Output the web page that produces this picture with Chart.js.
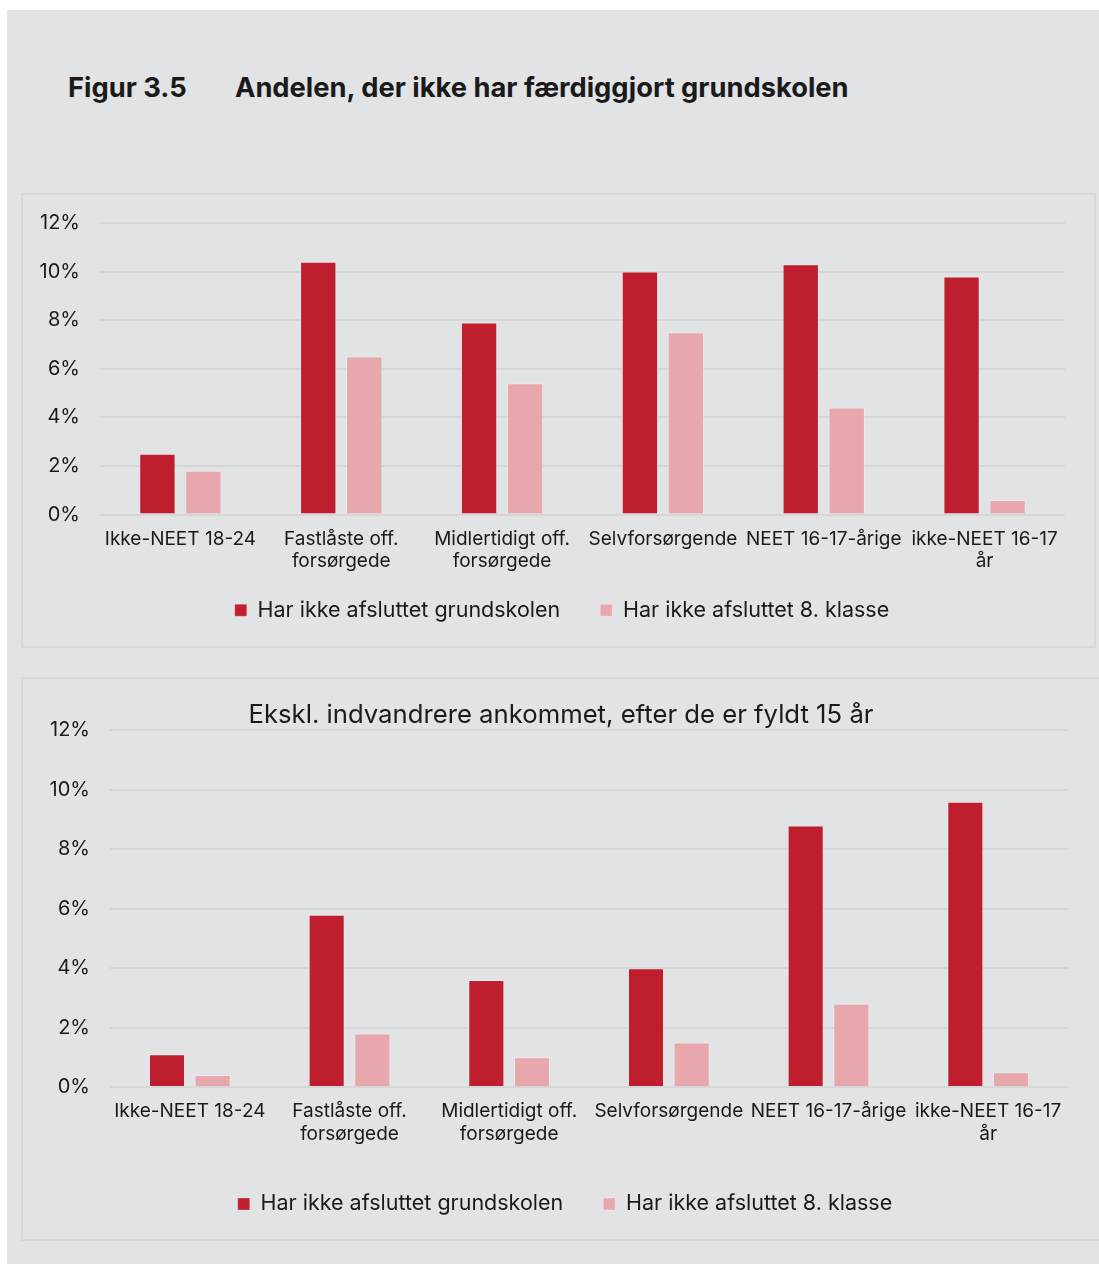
<!DOCTYPE html>
<html>
<head>
<meta charset="utf-8">
<script src="https://cdn.jsdelivr.net/npm/chart.js@4.4.1/dist/chart.umd.min.js"></script>
<style>
html,body{margin:0;padding:0;background:#ffffff;width:1099px;height:1264px;overflow:hidden;}
#page{position:absolute;left:7px;top:10px;width:1092px;height:1254px;background:#e2e3e5;}
.ttl{position:absolute;top:73px;font:700 27.3px Inter, "Liberation Sans", sans-serif;line-height:30px;color:#1a1a1a;white-space:pre;}
.panel{position:absolute;border:2px solid #d6d7d9;box-sizing:border-box;}
#p1{left:21px;top:193px;width:1075px;height:455px;}
#p2{left:21px;top:677px;width:1090px;height:564px;}
canvas{display:block;}
</style>
</head>
<body>
<div id="page"></div>
<div class="ttl" style="left:68px">Figur 3.5</div>
<div class="ttl" style="left:235px">Andelen, der ikke har færdiggjort grundskolen</div>
<div class="panel" id="p1"><canvas id="c1" width="1071" height="451"></canvas></div>
<div class="panel" id="p2"><canvas id="c2" width="1086" height="560"></canvas></div>
<script>
// ---- data ----
const categories = [
  "Ikke-NEET 18-24",
  ["Fastlåste off.", "forsørgede"],
  ["Midlertidigt off.", "forsørgede"],
  "Selvforsørgende",
  "NEET 16-17-årige",
  ["ikke-NEET 16-17", "år"]
];
const seriesNames = ["Har ikke afsluttet grundskolen", "Har ikke afsluttet 8. klasse"];
const allGrundskolen = [2.5, 10.4, 7.9, 10.0, 10.3, 9.8];
const all8klasse     = [1.8, 6.5, 5.4, 7.5, 4.4, 0.6];
const exclGrundskolen = [1.1, 5.8, 3.6, 4.0, 8.8, 9.6];
const excl8klasse     = [0.4, 1.8, 1.0, 1.5, 2.8, 0.5];
const yTicks = [0, 2, 4, 6, 8, 10, 12];
const chart2Title = "Ekskl. indvandrere ankommet, efter de er fyldt 15 år";

// ---- styling ----
const DARK = "#be1e2d", LIGHT = "#e8a7ac", TXT = "#1a1a1a", GRID = "#d5d6d8";
Chart.defaults.font.family = "Inter, 'Liberation Sans', sans-serif";
Chart.defaults.color = TXT;

// shifts legend / title boxes after layout (visual offset only)
const boxShift = {
  id: "boxShift",
  afterLayout(chart, args, o) {
    const lg = chart.legend;
    if (lg) { lg.left += o.ldx || 0; lg.right += o.ldx || 0; lg.top += o.ldy || 0; lg.bottom += o.ldy || 0; }
    const t = chart.titleBlock;
    if (t) { t.left += o.tdx || 0; t.right += o.tdx || 0; }
  }
};

function makeChart(id, d1, d2, opt) {
  return new Chart(document.getElementById(id), {
    type: "bar",
    data: {
      labels: categories,
      datasets: [
        {label: seriesNames[0], data: d1, backgroundColor: DARK, borderColor: "rgba(255,255,255,0.25)", borderWidth: 1,
         barPercentage: 0.79, categoryPercentage: 0.572},
        {label: seriesNames[1], data: d2, backgroundColor: LIGHT, borderColor: "rgba(255,255,255,0.3)", borderWidth: 1,
         barPercentage: 0.79, categoryPercentage: 0.572}
      ]
    },
    plugins: [boxShift],
    options: {
      responsive: false,
      animation: false,
      layout: {padding: opt.padding},
      plugins: {
        boxShift: opt.shift,
        tooltip: {enabled: false},
        title: opt.title ? {display: true, text: opt.title, color: TXT,
          font: {size: 25.7, weight: "normal"}, padding: {top: 20.6, bottom: 0}} : {display: false},
        legend: {
          position: "bottom",
          labels: {font: {size: 21.5}, color: TXT, boxWidth: 12, boxHeight: 12, padding: 40}
        }
      },
      scales: {
        x: {
          grid: {display: false, drawTicks: false},
          border: {display: false},
          ticks: {font: {size: 19}, color: TXT, padding: 13, maxRotation: 0, autoSkip: false},
          afterFit: s => { s.height = opt.xh; s.paddingLeft = 0; s.paddingRight = 0; }
        },
        y: {
          min: 0, max: 12,
          afterBuildTicks: s => { s.ticks = yTicks.map(v => ({value: v})); },
          grid: {color: GRID, lineWidth: 2, drawTicks: false},
          border: {display: false},
          ticks: {font: {size: 20}, color: TXT, padding: 20, callback: v => v + "%"},
          afterFit: s => { s.width = opt.yw; s.paddingTop = 0; s.paddingBottom = 0; }
        }
      }
    }
  });
}

makeChart("c1", allGrundskolen, all8klasse, {
  padding: {left: 0, right: 29, top: 28, bottom: 0}, yw: 77, xh: 60,
  shift: {ldx: 18, ldy: -15}
});
makeChart("c2", exclGrundskolen, excl8klasse, {
  title: chart2Title,
  padding: {left: 0, right: 41, top: 0, bottom: 14.25}, yw: 87, xh: 66.25,
  shift: {ldx: 19.5, tdx: 15.5}
});
</script>
</body>
</html>
